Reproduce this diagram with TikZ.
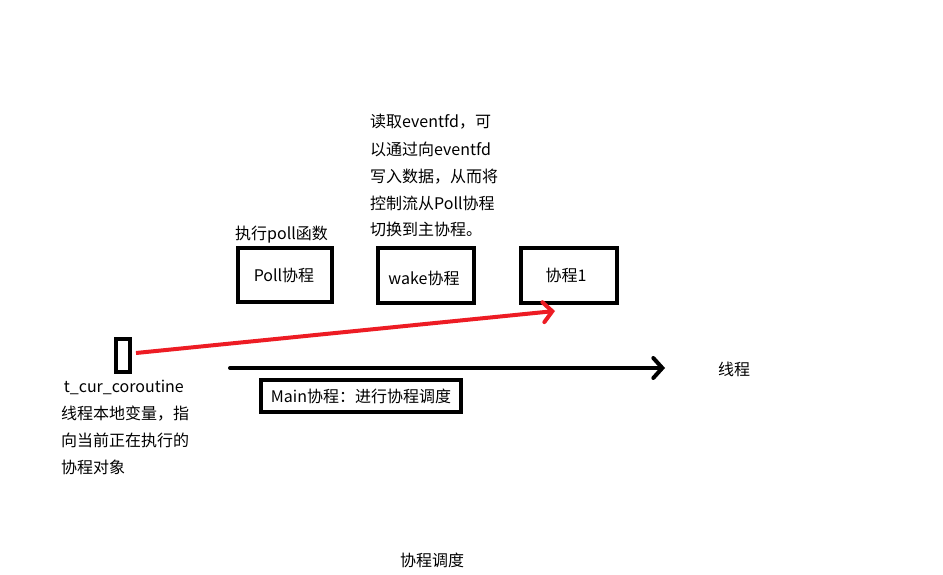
\documentclass[tikz,border=0pt]{standalone}
\usepackage{fontspec}
\setmainfont{Noto Sans CJK SC}
\usetikzlibrary{arrows.meta}
\begin{document}
\begin{tikzpicture}[x=1pt,y=-1pt,
  box/.style={draw=black,line width=4pt},
  lbl/.style={font=\fontsize{16}{16}\selectfont,inner sep=0pt},
  para/.style={font=\fontsize{16}{27}\selectfont,inner sep=0pt,align=left,anchor=base west},
  chev/.style={-{Straight Barb[length=9pt,width=20pt,line width=4pt,line cap=round]}}]
\useasboundingbox (0,0) rectangle (943,575);
\fill[white] (0,0) rectangle (943,575);
% boxes
\node[box,minimum width=94pt,minimum height=54pt,inner sep=0pt] (poll) at (285,275) {};
\node[lbl] (polltxt) at (284,275) {Poll协程};
\node[box,minimum width=96pt,minimum height=55pt,inner sep=0pt] (wake) at (426,275) {};
\node[lbl] (waketxt) at (424,278) {wake协程};
\node[box,minimum width=96pt,minimum height=55pt,inner sep=0pt] (c1) at (569,275) {};
\node[lbl] (c1txt) at (566,275) {协程1};
\node[box,minimum width=14pt,minimum height=33pt,inner sep=0pt] (tcur) at (123,355) {};
\node[box,minimum width=200pt,minimum height=32pt,inner sep=0pt] (main) at (361,396) {};
\node[lbl] (maintxt) at (361,396) {Main协程：进行协程调度};
% labels
\node[lbl,anchor=west] (exec) at (235,235) {执行poll函数};
\node[para] (read) at (370,236) {读取eventfd，可\\以通过向eventfd\\写入数据，从而将\\控制流从Poll协程\\切换到主协程。};
\node[para] (tdesc) at (61,473) {\,t\_cur\_coroutine\\线程本地变量，指\\向当前正在执行的\\协程对象};
\node[lbl] (thread) at (734,369) {线程};
\node[lbl] (title) at (432,560) {协程调度};
% arrows
\coordinate (rs) at (136,353);
\coordinate (re) at (555,311);
\draw[line width=4pt,chev,draw={rgb,255:red,237;green,28;blue,36}] (rs) -- (re);
\coordinate (bs) at (230,368);
\coordinate (be) at (665,368);
\draw[line width=4pt,line cap=round,chev] (bs) -- (be);
\end{tikzpicture}
\end{document}
